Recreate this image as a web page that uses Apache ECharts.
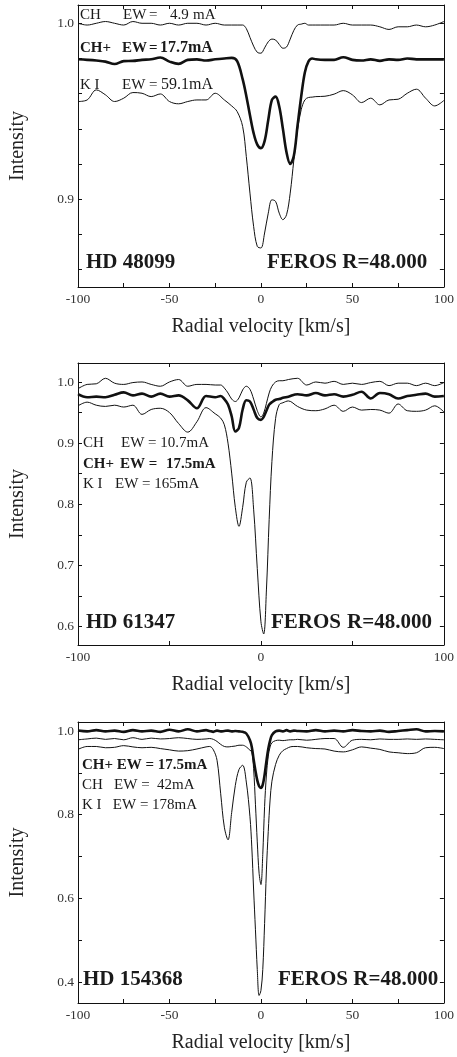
<!DOCTYPE html>
<html><head><meta charset="utf-8">
<script src="https://cdn.jsdelivr.net/npm/echarts@6/dist/echarts.min.js"></script>
<style>html,body{margin:0;padding:0;background:#fff}#c{width:457px;height:1057px}</style>
</head><body><div id="c"></div>
<script>
// ---------- Panel 1: HD 48099 ----------
const V1 = [-100,-95,-90,-85,-80,-75,-70,-65,-60,-55,-50,-45,-40,-35,-30,-25,-20,-16,-13,-10,-8,-6,-4,-2,0,2,4,6,8,10,12,14,16,18,20,22,24,26,28,30,35,40,45,50,55,60,65,70,75,80,85,90,95,100];
const CH_1 = [1.000,0.999,1.000,1.001,1.000,0.999,1.001,1.000,1.000,0.999,1.000,0.999,1.000,1.000,0.999,1.000,0.999,0.999,0.999,0.999,0.997,0.992,0.987,0.9835,0.983,0.986,0.9895,0.991,0.9905,0.988,0.9858,0.9865,0.991,0.996,0.999,0.9995,1.000,0.999,0.999,0.999,0.999,0.999,1.000,0.999,0.999,0.999,0.998,0.9965,0.998,0.998,0.999,0.998,0.999,1.001];
const CHP_1 = [0.9795,0.9792,0.9788,0.9782,0.9768,0.9785,0.9786,0.9792,0.9795,0.9805,0.9782,0.9769,0.9792,0.9795,0.9788,0.9795,0.9800,0.9803,0.9785,0.9682,0.9587,0.9477,0.9375,0.931,0.929,0.933,0.945,0.9564,0.9583,0.9527,0.940,0.9265,0.920,0.9247,0.9417,0.9583,0.972,0.9783,0.980,0.9795,0.9792,0.9792,0.9807,0.9792,0.9788,0.9795,0.9786,0.9795,0.9792,0.980,0.9795,0.9795,0.9795,0.9795];
const KI_1 = [0.9555,0.9564,0.9621,0.9593,0.9555,0.9574,0.9606,0.9602,0.9583,0.9598,0.9555,0.9542,0.9555,0.9564,0.9564,0.9602,0.9564,0.953,0.9498,0.9413,0.9242,0.9034,0.8845,0.8731,0.8722,0.8807,0.892,0.8996,0.8987,0.892,0.8883,0.8911,0.9034,0.9223,0.9394,0.9508,0.9564,0.9578,0.958,0.9583,0.9585,0.9597,0.9617,0.9593,0.9549,0.9574,0.9536,0.9564,0.9568,0.9602,0.9625,0.9574,0.953,0.9561];

// ---------- Panel 2: HD 61347 ----------
const V2 = [-100,-95,-90,-85,-80,-75,-70,-65,-60,-55,-50,-45,-40,-35,-30,-25,-22,-20,-18,-16,-14,-12,-10,-8,-6,-4,-2,0,1.5,3,4.5,6,8,10,12,15,20,25,30,35,40,45,50,55,60,65,70,75,80,85,90,95,100];
const CH_2 = [0.989,0.996,0.997,1.006,0.998,0.996,0.999,1.000,0.996,0.993,1.000,1.004,0.993,0.996,0.996,0.995,0.995,0.990,0.982,0.972,0.968,0.974,0.987,0.993,0.988,0.972,0.953,0.943,0.949,0.965,0.982,0.993,1.000,1.002,1.002,1.004,1.006,0.995,1.000,0.998,1.001,0.996,0.998,0.996,0.999,1.001,0.994,0.998,0.998,0.994,0.998,0.994,0.999];
const CHP_2 = [0.980,0.975,0.976,0.975,0.979,0.983,0.978,0.981,0.976,0.981,0.976,0.978,0.970,0.957,0.977,0.975,0.977,0.972,0.963,0.944,0.919,0.925,0.955,0.970,0.968,0.955,0.941,0.938,0.943,0.953,0.963,0.967,0.971,0.972,0.974,0.976,0.980,0.978,0.982,0.978,0.980,0.976,0.979,0.984,0.973,0.982,0.980,0.973,0.977,0.979,0.981,0.976,0.977];
const KI_2 = [0.961,0.967,0.962,0.960,0.962,0.959,0.962,0.947,0.955,0.957,0.950,0.932,0.918,0.935,0.958,0.948,0.941,0.930,0.900,0.851,0.795,0.764,0.795,0.836,0.843,0.792,0.695,0.608,0.588,0.660,0.775,0.870,0.940,0.963,0.966,0.969,0.960,0.954,0.953,0.956,0.962,0.952,0.959,0.954,0.955,0.954,0.949,0.964,0.953,0.952,0.954,0.961,0.951];

// ---------- Panel 3: HD 154368 ----------
const V3 = [-100,-95,-90,-85,-80,-75,-70,-65,-60,-55,-50,-45,-40,-35,-30,-28,-26,-24,-22,-20,-18,-16,-14,-12,-10,-8,-6,-5,-4,-3,-2,-1,0,1,2,3,4,5,6,8,10,12,14,16,18,20,25,30,35,40,45,50,55,60,65,70,75,80,85,90,95,100];
const CHP_3 = [1.001,0.999,1.002,0.999,1.001,0.998,1.002,0.999,1.001,0.998,1.003,0.999,1.004,0.999,1.002,1.000,0.998,1.001,0.999,1.000,1.001,0.999,1.000,0.999,0.998,0.994,0.978,0.962,0.932,0.905,0.882,0.868,0.864,0.872,0.895,0.928,0.957,0.977,0.990,0.999,1.001,0.999,1.002,0.999,1.001,1.000,0.999,1.002,0.999,1.001,0.999,1.002,1.000,0.999,1.001,0.998,1.000,1.002,1.004,0.999,1.000,0.999];
const CH_3 = [0.979,0.981,0.983,0.980,0.982,0.979,0.984,0.980,0.983,0.981,0.982,0.984,0.982,0.980,0.981,0.982,0.980,0.975,0.968,0.963,0.962,0.963,0.964,0.966,0.966,0.962,0.954,0.950,0.910,0.825,0.735,0.660,0.633,0.705,0.820,0.895,0.940,0.962,0.972,0.977,0.978,0.977,0.978,0.979,0.979,0.980,0.978,0.980,0.982,0.982,0.961,0.978,0.980,0.979,0.981,0.980,0.980,0.981,0.980,0.981,0.980,0.979];
const KI_3 = [0.956,0.963,0.963,0.960,0.961,0.965,0.962,0.960,0.961,0.958,0.955,0.952,0.953,0.957,0.962,0.963,0.955,0.930,0.850,0.770,0.740,0.805,0.870,0.908,0.918,0.878,0.795,0.723,0.620,0.525,0.430,0.368,0.380,0.430,0.540,0.668,0.760,0.835,0.880,0.920,0.942,0.953,0.958,0.962,0.963,0.963,0.960,0.958,0.957,0.952,0.950,0.955,0.962,0.959,0.956,0.950,0.948,0.946,0.948,0.960,0.961,0.958];

// ---------- Tick / label values ----------
const X_TICKS_A = [-100,-75,-50,-25,0,25,50,75,100];
const X_LABELS_A = [-100,-50,0,50,100];
const X_TICKS_B = [-100,-50,0,50,100];
const X_LABELS_B = [-100,0,100];
const Y1_TICKS = [0.86,0.88,0.90,0.92,0.94,0.96,0.98,1.00];
const Y1_LABELS = [0.9,1.0];
const Y2_TICKS = [0.60,0.65,0.70,0.75,0.80,0.85,0.90,0.95,1.00];
const Y2_LABELS = [0.6,0.7,0.8,0.9,1.0];
const Y3_TICKS = [0.4,0.5,0.6,0.7,0.8,0.9,1.0];
const Y3_LABELS = [0.4,0.6,0.8,1.0];

const FONT = '"Liberation Serif", "Times New Roman", serif';
const INK = '#111';

const panels = [
  {top:5, height:282, ymin:0.85, ymax:1.0104, xt:X_TICKS_A, xl:X_LABELS_A, yt:Y1_TICKS, yl:Y1_LABELS,
   V:V1, series:[[CH_1,false],[KI_1,false],[CHP_1,true]]},
  {top:363, height:282, ymin:0.57, ymax:1.031, xt:X_TICKS_B, xl:X_LABELS_B, yt:Y2_TICKS, yl:Y2_LABELS,
   V:V2, series:[[CH_2,false],[KI_2,false],[CHP_2,true]]},
  {top:722, height:281, ymin:0.35, ymax:1.0215, xt:X_TICKS_A, xl:X_LABELS_A, yt:Y3_TICKS, yl:Y3_LABELS,
   V:V3, series:[[CH_3,false],[KI_3,false],[CHP_3,true]]}
];

const grid = [], xAxis = [], yAxis = [], series = [];
panels.forEach((p, i) => {
  grid.push({left:77, width:370, top:p.top, height:p.height, show:false});
  const line = {show:true, onZero:false, lineStyle:{color:INK, width:1}};
  const tick = (vals) => ({show:true, inside:true, length:4, customValues:vals, lineStyle:{color:INK, width:1}});
  xAxis.push({gridIndex:i, type:'value', min:-100, max:100, position:'bottom',
    axisLine:line, axisTick:tick(p.xt), splitLine:{show:false},
    axisLabel:{show:true, customValues:p.xl, margin:5, color:'#333', fontFamily:FONT, fontSize:13.5, formatter:v=>String(v)},
    name:'Radial velocity [km/s]', nameLocation:'middle', nameGap:30,
    nameTextStyle:{fontFamily:FONT, fontSize:20, color:'#222'}});
  xAxis.push({gridIndex:i, type:'value', min:-100, max:100, position:'top',
    axisLine:line, axisTick:tick(p.xt), splitLine:{show:false}, axisLabel:{show:false}});
  yAxis.push({gridIndex:i, type:'value', min:p.ymin, max:p.ymax, position:'left',
    axisLine:line, axisTick:tick(p.yt), splitLine:{show:false},
    axisLabel:{show:true, customValues:p.yl, margin:4, color:'#333', fontFamily:FONT, fontSize:13.5, formatter:v=>v.toFixed(1)},
    name:'Intensity', nameLocation:'middle', nameGap:50, nameRotate:90,
    nameTextStyle:{fontFamily:FONT, fontSize:20, color:'#222'}});
  yAxis.push({gridIndex:i, type:'value', min:p.ymin, max:p.ymax, position:'right',
    axisLine:line, axisTick:tick(p.yt), splitLine:{show:false}, axisLabel:{show:false}});
  p.series.forEach(([arr, thick]) => {
    series.push({type:'line', xAxisIndex:i*2, yAxisIndex:i*2, symbol:'none', smooth:0.35,
      silent:true, z: thick ? 3 : 2,
      lineStyle:{color:INK, width: thick ? 2.6 : 1},
      data: p.V.map((v, k) => [v, arr[k]])});
  });
});

function T(x, y, text, size, bold) {
  return {type:'text', x:x, y:y, silent:true, z:10,
    style:{text:text, fill:'#1a1a1a', font:(bold?'bold ':'') + size + 'px ' + FONT, verticalAlign:'middle', align:'left'}};
}
const graphic = [
  T(80, 15, 'CH', 15, false), T(123, 15, 'EW', 15, false), T(149, 15, '=', 15, false), T(170, 15, '4.9', 15, false), T(193, 15, 'mA', 15, false),
  T(80, 48, 'CH+', 15, true), T(122, 48, 'EW', 15, true), T(149, 48, '=', 15, true), T(160, 48, '17.7mA', 16, true),
  T(80, 85, 'K I', 15, false), T(122, 85, 'EW', 15, false), T(149, 85, '=', 15, false), T(161, 85, '59.1mA', 16, false),
  T(86, 263, 'HD 48099', 21, true), T(267, 263, 'FEROS R=48.000', 21, true),

  T(83, 443, 'CH', 15, false), T(121, 443, 'EW = 10.7mA', 15, false),
  T(83, 464, 'CH+', 15, true), T(120, 464, 'EW =', 15, true), T(166, 464, '17.5mA', 15, true),
  T(83, 484, 'K I', 15, false), T(115, 484, 'EW = 165mA', 15, false),
  T(86, 623, 'HD 61347', 21, true), T(271, 623, 'FEROS', 21, true), T(347, 623, 'R=48.000', 21, true),

  T(82, 765, 'CH+ EW = 17.5mA', 15, true),
  T(82, 785, 'CH   EW =  42mA', 15, false),
  T(82, 805, 'K I   EW = 178mA', 15, false),
  T(83, 980, 'HD 154368', 21, true), T(278, 980, 'FEROS R=48.000', 21, true)
];

const chart = echarts.init(document.getElementById('c'), null, {renderer:'canvas'});
chart.setOption({backgroundColor:'#fff', animation:false, grid, xAxis, yAxis, series, graphic});
</script></body></html>
